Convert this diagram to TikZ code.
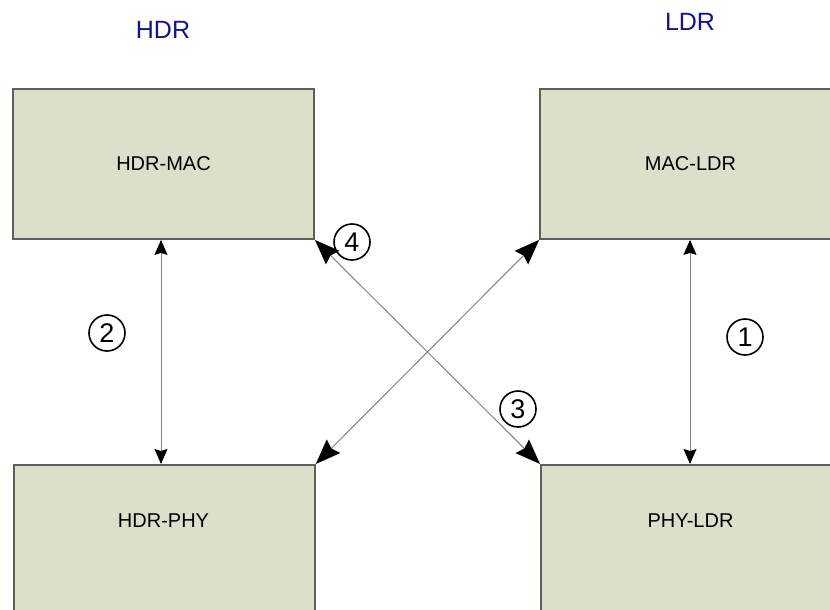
\documentclass[tikz,border=0pt]{standalone}
\usepackage{fontspec}
\setmainfont{Liberation Sans}
\usetikzlibrary{arrows.meta}
\definecolor{boxfill}{RGB}{220,223,201}
\definecolor{boxline}{RGB}{95,95,90}
\definecolor{titleblue}{RGB}{20,20,140}
\definecolor{connline}{RGB}{130,130,130}
\tikzset{
  blk/.style={draw=boxline, line width=1.8pt, fill=boxfill, rectangle, minimum width=301pt, minimum height=150pt, inner sep=0pt},
  blklabel/.style={font=\fontsize{20}{24}\selectfont, text=black},
  ttl/.style={font=\fontsize{25}{30}\selectfont, text=titleblue},
  numc/.style={draw=black, circle, line width=1.6pt, minimum size=36pt, inner sep=0pt, font=\fontsize{27}{30}\selectfont},
  vconn/.style={draw=connline, line width=1pt, {Stealth[black,length=15pt,width=13pt,inset=2pt]}-{Stealth[black,length=15pt,width=13pt,inset=2pt]}},
  dconn/.style={draw=connline, line width=1pt, {Stealth[black,length=25pt,width=19pt,inset=3pt]}-{Stealth[black,length=25pt,width=19pt,inset=3pt]}}
}
\begin{document}
\begin{tikzpicture}[x=1pt,y=-1pt]
\useasboundingbox (0,0) rectangle (830,610);
\clip (0,0) rectangle (830,610);
\node[ttl] (thdr) at (163,30) {HDR};
\node[ttl] (tldr) at (690,22) {LDR};
\node[blk] (hmac) at (163.5,164) {};
\node[blk] (lmac) at (690.5,164) {};
\node[blk, anchor=north west] (hphy) at (13,464) {};
\node[blk, anchor=north west] (lphy) at (540,464) {};
\node[blklabel] (hmacl) at (163.5,164) {HDR-MAC};
\node[blklabel] (lmacl) at (690.5,164) {MAC-LDR};
\node[blklabel] (hphyl) at (163.5,521) {HDR-PHY};
\node[blklabel] (lphyl) at (690.5,521) {PHY-LDR};
\draw[vconn] ([xshift=-2.5pt]hmac.south) -- ([xshift=-2.5pt]hmac.south |- hphy.north);
\draw[vconn] ([xshift=-0.5pt]lmac.south) -- ([xshift=-0.5pt]lmac.south |- lphy.north);
\draw[dconn] (hmac.south east) -- (lphy.north west);
\draw[dconn] (lmac.south west) -- (hphy.north east);
\node[numc] (n1) at (745,337) {1};
\node[numc] (n2) at (107,333) {2};
\node[numc] (n3) at (518,409) {3};
\node[numc] (n4) at (352,242) {4};
\end{tikzpicture}
\end{document}
